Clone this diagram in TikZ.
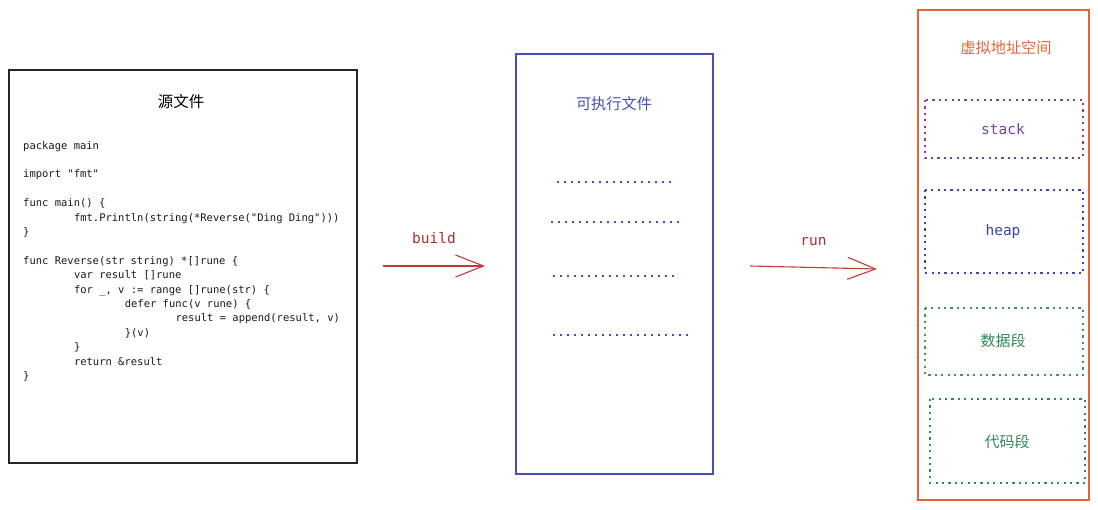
\documentclass[tikz,border=0pt]{standalone}
\usepackage{fontspec}
\usetikzlibrary{arrows.meta}
\newfontfamily\cjk{Noto Sans CJK SC}
\newfontfamily\codefont{DejaVu Sans Mono}

\definecolor{arrred}{HTML}{C93636}
\definecolor{exeblue}{HTML}{4450B8}
\definecolor{vmorange}{HTML}{E0663A}
\definecolor{stackpurple}{HTML}{7E3FA6}
\definecolor{heapblue}{HTML}{3A45B5}
\definecolor{datagreen}{HTML}{3C9A55}
\definecolor{textgreen}{HTML}{2E8A58}

\newcommand\tb{\hspace*{50.8pt}}

\begin{document}
\begin{tikzpicture}[x=1pt, y=-1pt,
    seg/.style={draw=#1, line width=2.2pt, dash pattern=on 2.2pt off 4.2pt, text=#1},
    flow/.style={draw=arrred, line width=1.1pt, -{Straight Barb[length=28pt, width=22pt, line width=1.1pt]}},
    flowlbl/.style={text=arrred!85!black, font=\codefont\fontsize{14.5}{16}\selectfont},
    segfont/.style={font=\codefont\fontsize{14.5}{16}\selectfont},
    cjkfont/.style={font=\cjk\fontsize{#1}{18}\selectfont},
    bits/.style={draw=exeblue, line width=2pt, dash pattern=on 2.2pt off 4.8pt}]

  \useasboundingbox (0,0) rectangle (1098,510);

  %% source file
  \draw[line width=1.3pt, draw=black!85] (9,70) rectangle (357,463);
  \node[cjkfont=15.5] (srctitle) at (181,102) {源文件};
  \node[anchor=base west, inner sep=0pt, align=left, text=black!90,
        font=\codefont\fontsize{10.5}{14.4}\selectfont] (code) at (23,379.5)
  {package main\\
   \mbox{}\\
   import "fmt"\\
   \mbox{}\\
   func main() \{\\
   \tb fmt.Println(string(*Reverse("Ding Ding")))\\
   \}\\
   \mbox{}\\
   func Reverse(str string) *[]rune \{\\
   \tb var result []rune\\
   \tb for \_, v := range []rune(str) \{\\
   \tb\tb defer func(v rune) \{\\
   \tb\tb\tb result = append(result, v)\\
   \tb\tb \}(v)\\
   \tb \}\\
   \tb return \&result\\
   \}};

  %% build
  \coordinate (b1) at (383,266);
  \coordinate (b2) at (485,266);
  \draw[flow] (b1) -- node[flowlbl, above=18pt] (buildlbl) {build} (b2);

  %% executable
  \draw[draw=exeblue, line width=1.3pt] (516,54) rectangle (713,474);
  \node[text=exeblue, cjkfont=15.2] (exetitle) at (614,104) {可执行文件};
  \draw[bits] (557,182) -- (676,182);
  \draw[bits] (551,222) -- (680,222);
  \draw[bits] (553,276) -- (678,276);
  \draw[bits] (553,335) -- (690,335);

  %% run
  \coordinate (r1) at (750,266);
  \coordinate (r2) at (877,269);
  \draw[flow] (r1) -- node[flowlbl, above=18pt] (runlbl) {run} (r2);

  %% virtual address space
  \draw[draw=vmorange, line width=1.3pt] (918,10) rectangle (1089,500);
  \node[text=vmorange, cjkfont=15.2] (vmtitle) at (1006,48) {虚拟地址空间};

  \draw[seg=stackpurple] (925,100) rectangle (1083,158);
  \node[text=stackpurple, segfont] (stack) at (1003,129) {stack};
  \draw[seg=heapblue] (925,190) rectangle (1083,273);
  \node[text=heapblue, segfont] (heap) at (1003,232) {heap};
  \draw[seg=datagreen] (925,308) rectangle (1083,375);
  \node[text=textgreen, cjkfont=15] (data) at (1003,341) {数据段};
  \draw[seg=textgreen] (930,399) rectangle (1085,483);
  \node[text=textgreen, cjkfont=15] (text) at (1007,442) {代码段};
\end{tikzpicture}
\end{document}
